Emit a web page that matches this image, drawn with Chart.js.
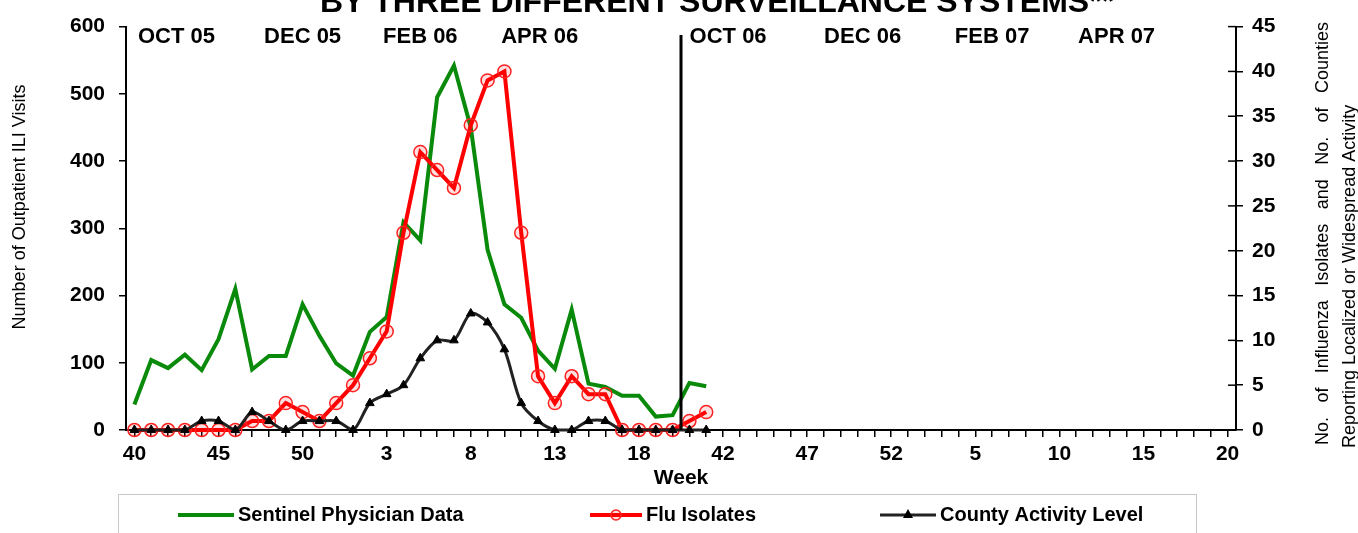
<!DOCTYPE html>
<html>
<head>
<meta charset="utf-8">
<script src="https://cdn.jsdelivr.net/npm/chart.js@4.4.0/dist/chart.umd.min.js"></script>
<style>
  html, body { margin: 0; padding: 0; background: #fff; }
  #wrap { width: 1358px; height: 533px; }
</style>
</head>
<body>
<div id="wrap"><canvas id="myChart"></canvas></div>
<script>
// week numbers, season 2005-06 then 2006-07 (weeks 21-39 are not shown)
const weeks = [40, 41, 42, 43, 44, 45, 46, 47, 48, 49, 50, 51, 52,
  1, 2, 3, 4, 5, 6, 7, 8, 9, 10, 11, 12, 13, 14, 15, 16, 17, 18, 19, 20,
  40, 41, 42, 43, 44, 45, 46, 47, 48, 49, 50, 51, 52,
  1, 2, 3, 4, 5, 6, 7, 8, 9, 10, 11, 12, 13, 14, 15, 16, 17, 18, 19, 20];

// outpatient ILI visits (left axis)
const sentinelVisits = [38, 104, 92, 112, 89, 135, 210, 90, 110, 110, 187, 140, 99, 81, 146, 168,
  309, 282, 495, 542, 450, 268, 187, 167, 118, 91, 179, 69, 64, 51, 51, 20, 22, 70, 65];

// flu isolates (right axis)
const fluIsolates = [0, 0, 0, 0, 0, 0, 0, 1, 1, 3, 2, 1, 3, 5, 8, 11,
  22, 31, 29, 27, 34, 39, 40, 22, 6, 3, 6, 4, 4, 0, 0, 0, 0, 1, 2];

// counties reporting localized / widespread activity (right axis)
const countyActivity = [0, 0, 0, 0, 1, 1, 0, 2, 1, 0, 1, 1, 1, 0, 3, 4,
  5, 8, 10, 10, 13, 12, 9, 3, 1, 0, 0, 1, 1, 0, 0, 0, 0, 0, 0];

const seriesNames = ['Sentinel Physician Data', 'Flu Isolates', 'County Activity Level'];
const monthLabels = ['OCT 05', 'DEC 05', 'FEB 06', 'APR 06', 'OCT 06', 'DEC 06', 'FEB 07', 'APR 07'];

const chartTitle = 'BY THREE DIFFERENT SURVEILLANCE SYSTEMS**';
const leftTitle = 'Number of Outpatient ILI Visits';
const rightTitle = ['No. of Influenza Isolates and No. of Counties', 'Reporting Localized or Widespread Activity'];

const FONT = '"Liberation Sans", Arial, Helvetica, sans-serif';
Chart.defaults.font.family = FONT;
Chart.defaults.color = '#000';

// titles, month labels, season line and the boxed legend
const overlay = {
  id: 'overlay',
  afterDraw(chart) {
    const ctx = chart.ctx;
    const xs = chart.scales.x;
    const y1 = chart.scales.y1;
    const area = chart.chartArea;
    const monthAt = [2.5, 10, 17, 24.1, 35.3, 43.3, 51, 58.4];

    ctx.save();
    ctx.fillStyle = '#000';

    // big title, cut at the top like the source
    ctx.font = 'bold 32px ' + FONT;
    ctx.textAlign = 'center';
    ctx.textBaseline = 'alphabetic';
    ctx.fillText(chartTitle, 717, 12);

    // month labels
    ctx.font = 'bold 22px ' + FONT;
    ctx.textBaseline = 'middle';
    monthLabels.forEach((m, i) => ctx.fillText(m, xs.getPixelForValue(monthAt[i]), 37));

    // line between the two seasons
    const sx = xs.getPixelForValue(32.5);
    ctx.strokeStyle = '#000';
    ctx.lineWidth = 3;
    ctx.beginPath();
    ctx.moveTo(sx, 35);
    ctx.lineTo(sx, area.bottom);
    ctx.stroke();

    // right axis ticks cross the axis line
    ctx.lineWidth = 1.5;
    y1.ticks.forEach(t => {
      const py = y1.getPixelForValue(t.value);
      ctx.beginPath();
      ctx.moveTo(area.right - 8, py);
      ctx.lineTo(area.right, py);
      ctx.stroke();
    });

    // axis titles
    ctx.font = '18px ' + FONT;
    ctx.save();
    ctx.translate(20, 207);
    ctx.rotate(-Math.PI / 2);
    ctx.textAlign = 'center';
    ctx.fillText(leftTitle, 0, 0);
    ctx.restore();

    ctx.textAlign = 'left';
    const words = rightTitle[0].split(' ');
    const wid = words.map(w => ctx.measureText(w).width);
    const gap = (423 - wid.reduce((a, b) => a + b, 0)) / (words.length - 1);
    ctx.save();
    ctx.translate(1323, 445);
    ctx.rotate(-Math.PI / 2);
    let cx = 0;
    words.forEach((w, i) => { ctx.fillText(w, cx, 0); cx += wid[i] + gap; });
    ctx.restore();
    ctx.save();
    ctx.translate(1350, 448);
    ctx.rotate(-Math.PI / 2);
    ctx.fillText(rightTitle[1], 0, 0);
    ctx.restore();

    // legend
    ctx.strokeStyle = '#c8c8c8';
    ctx.lineWidth = 1;
    ctx.strokeRect(118.5, 494.5, 1078, 60);
    const items = [{ x: 178, w: 56 }, { x: 590, w: 52 }, { x: 880, w: 56 }];
    const ly = 515;
    ctx.font = 'bold 20px ' + FONT;
    items.forEach((it, i) => {
      const ds = chart.data.datasets[i];
      ctx.strokeStyle = ds.borderColor;
      ctx.lineWidth = ds.borderWidth;
      ctx.beginPath();
      ctx.moveTo(it.x, ly);
      ctx.lineTo(it.x + it.w, ly);
      ctx.stroke();
      const mx = it.x + it.w / 2;
      if (i === 1) {
        ctx.fillStyle = ds.pointBackgroundColor;
        ctx.strokeStyle = ds.pointBorderColor;
        ctx.lineWidth = 1.5;
        ctx.beginPath();
        ctx.arc(mx, ly, 5, 0, Math.PI * 2);
        ctx.fill();
        ctx.stroke();
      } else if (i === 2) {
        ctx.fillStyle = '#000';
        ctx.beginPath();
        ctx.moveTo(mx, ly - 6);
        ctx.lineTo(mx + 5, ly + 3);
        ctx.lineTo(mx - 5, ly + 3);
        ctx.closePath();
        ctx.fill();
      }
      ctx.fillStyle = '#000';
      ctx.textBaseline = 'middle';
      ctx.fillText(ds.label, it.x + it.w + 4, ly);
    });

    ctx.restore();
  }
};

new Chart(document.getElementById('myChart').getContext('2d'), {
  type: 'line',
  data: {
    labels: weeks,
    datasets: [{
      label: seriesNames[0],
      data: sentinelVisits,
      yAxisID: 'y',
      borderColor: '#0a8a0a',
      borderWidth: 4,
      pointRadius: 0,
      tension: 0,
      clip: false,
      order: 3
    }, {
      label: seriesNames[1],
      data: fluIsolates,
      yAxisID: 'y1',
      borderColor: '#ff0000',
      borderWidth: 4,
      pointStyle: 'circle',
      pointRadius: 6.5,
      pointBorderWidth: 1.5,
      pointBorderColor: '#ff2020',
      pointBackgroundColor: 'rgba(255,0,0,0.12)',
      tension: 0,
      clip: false,
      order: 2
    }, {
      label: seriesNames[2],
      data: countyActivity,
      yAxisID: 'y1',
      borderColor: '#222222',
      borderWidth: 3,
      pointStyle: 'triangle',
      pointRadius: 5,
      pointBorderWidth: 1,
      pointBorderColor: '#000',
      pointBackgroundColor: '#000',
      tension: 0.3,
      clip: false,
      order: 1
    }]
  },
  plugins: [overlay],
  options: {
    responsive: true,
    maintainAspectRatio: false,
    animation: false,
    layout: { padding: { top: 22, left: 0, right: 0, bottom: 0 } },
    plugins: {
      legend: { display: false },
      tooltip: { enabled: false }
    },
    scales: {
      x: {
        type: 'category',
        offset: true,
        grid: { drawOnChartArea: false, drawTicks: true, tickLength: 7, color: '#000', lineWidth: 1.5 },
        border: { color: '#000', width: 2 },
        ticks: {
          autoSkip: false,
          maxRotation: 0,
          padding: 5,
          font: { size: 21, weight: 'bold' },
          callback: (v, i) => (i % 5 === 0 ? weeks[i] : '')
        },
        title: { display: true, text: 'Week', font: { size: 21, weight: 'bold' }, padding: { top: 0, bottom: 42 } },
        afterFit: s => { s.height = 103; }
      },
      y: {
        position: 'left',
        min: 0,
        max: 600,
        grid: { drawOnChartArea: false, tickLength: 7, color: '#000', lineWidth: 1.5 },
        border: { color: '#000', width: 2 },
        ticks: { stepSize: 100, padding: 14, font: { size: 21, weight: 'bold' } },
        afterFit: s => { s.width = 126; }
      },
      y1: {
        position: 'right',
        min: 0,
        max: 45,
        grid: { drawOnChartArea: false, tickLength: 7, color: '#000', lineWidth: 1.5 },
        border: { color: '#000', width: 2 },
        ticks: { stepSize: 5, padding: 9, font: { size: 21, weight: 'bold' } },
        afterFit: s => { s.width = 122; }
      }
    }
  }
});
</script>
</body>
</html>
